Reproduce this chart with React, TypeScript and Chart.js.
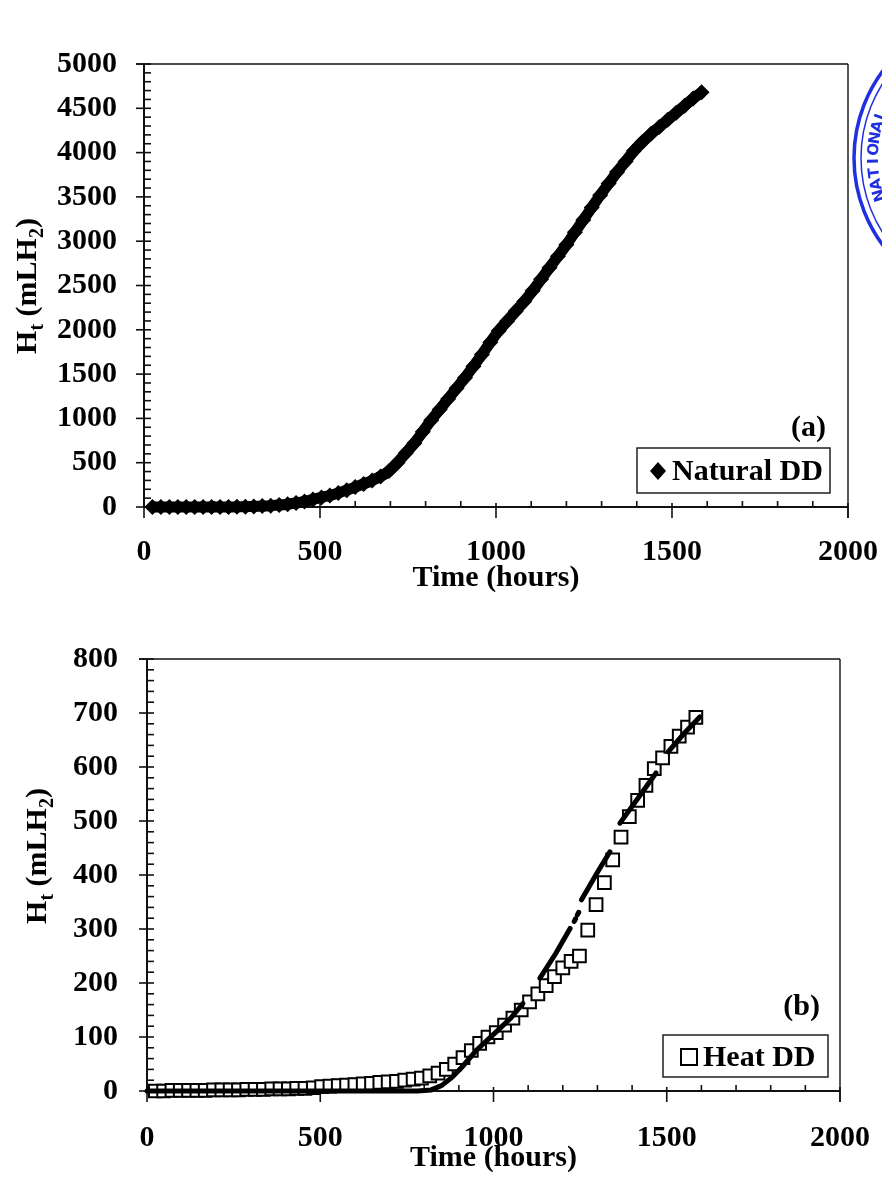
import React, { useEffect, useRef } from "react";
import { Chart, registerables } from "chart.js";

Chart.register(...registerables);

const FONT = "'Liberation Serif', 'Times New Roman', Times, serif";

// ---------- Panel (a): Natural DD ----------
const timeA = [
  24, 48, 72, 96, 120, 144, 168, 192, 216, 240,
  264, 288, 312, 336, 360, 384, 408, 432, 456, 480,
  504, 528, 552, 576, 600, 624, 648, 672, 696, 720,
  744, 768, 792, 816, 840, 864, 888, 912, 936, 960,
  984, 1008, 1032, 1056, 1080, 1104, 1128, 1152, 1176, 1200,
  1224, 1248, 1272, 1296, 1320, 1344, 1368, 1392, 1416, 1440,
  1464, 1488, 1512, 1536, 1560, 1584,
];
const naturalDD = [
  0, 0, 0, 0, 0, 0, 0, 0, 0, 0,
  2, 4, 6, 10, 15, 22, 32, 45, 62, 85,
  108, 130, 158, 190, 225, 260, 300, 345, 405, 500,
  610, 720, 850, 980, 1100, 1220, 1340, 1460, 1590, 1720,
  1860, 1990, 2100, 2210, 2320, 2440, 2570, 2700, 2830, 2960,
  3100, 3240, 3380, 3520, 3650, 3780, 3900, 4020, 4120, 4210,
  4290, 4370, 4450, 4530, 4610, 4680,
];

// ---------- Panel (b): Heat DD ----------
const timeB = [
  24, 48, 72, 96, 120, 144, 168, 192, 216, 240,
  264, 288, 312, 336, 360, 384, 408, 432, 456, 480,
  504, 528, 552, 576, 600, 624, 648, 672, 696, 720,
  744, 768, 792, 816, 840, 864, 888, 912, 936, 960,
  984, 1008, 1032, 1056, 1080, 1104, 1128, 1152, 1176, 1200,
  1224, 1248, 1272, 1296, 1320, 1344, 1368, 1392, 1416, 1440,
  1464, 1488, 1512, 1536, 1560, 1584,
];
const heatDD = [
  0, 0, 1, 1, 1, 1, 1, 2, 2, 2,
  2, 3, 3, 3, 4, 4, 4, 5, 5, 6,
  8, 9, 10, 11, 12, 13, 14, 16, 17, 18,
  20, 22, 24, 28, 33, 40, 50, 62, 75, 88,
  100, 108, 122, 135, 150, 165, 180, 195, 212, 228,
  240, 250, 298, 345, 386, 428, 470, 508, 538, 566,
  597, 617, 638, 657, 674, 692,
];
// model curve (broken into pieces, null = gap)
const modelTimeB = [
  0, 200, 400, 600, 700, 780, 820, 850, 880, 910, 950, 1000, 1050, 1085,
  1100, 1134, 1180, 1221, 1228, 1233, 1237, 1239, 1242, 1246, 1249,
  1254, 1300, 1336, 1350, 1365, 1420, 1469, 1485, 1504, 1550, 1596,
];
const modelHeatB = [
  0, 0, 0, 0, 0, 0, 2, 10, 25, 45, 75, 105, 135, 162,
  null, 209, 255, 301, null, 314, 319, null, 326, 331, null,
  354, 405, 443, null, 496, 545, 589, null, 628, 662, 693,
];

const xTickValues = [0, 500, 1000, 1500, 2000];
const yTickValuesA = [0, 500, 1000, 1500, 2000, 2500, 3000, 3500, 4000, 4500, 5000];
const yTickValuesB = [0, 100, 200, 300, 400, 500, 600, 700, 800];
const xTitle = "Time (hours)";
const legendTextA = "Natural DD";
const legendTextB = "Heat DD";
const panelTextA = "(a)";
const panelTextB = "(b)";

const W = 882;

type Spec = {
  canvasH: number;
  area: { left: number; right: number; top: number; bottom: number };
  xAxisH: number;
  yMax: number;
  yTicks: number[];
  yMinor: number;
  yLabelPad: number;
  xLabelPad: number;
  yTitle: { x: number; y: number };
  legend: {
    box: [number, number, number, number];
    marker: "diamond" | "square";
    mx: number;
    my: number;
    text: string;
    tx: number;
  };
  panel: { text: string; x: number; y: number };
  stamp: boolean;
  datasets: any[];
};

function line(ctx: CanvasRenderingContext2D, x1: number, y1: number, x2: number, y2: number) {
  ctx.beginPath();
  ctx.moveTo(x1, y1);
  ctx.lineTo(x2, y2);
  ctx.stroke();
}

function drawYTitle(ctx: CanvasRenderingContext2D, x: number, y: number) {
  const parts: [string, boolean][] = [
    ["H", false],
    ["t", true],
    [" (mLH", false],
    ["2", true],
    [")", false],
  ];
  const main = `bold 30px ${FONT}`;
  const sub = `bold 20px ${FONT}`;
  ctx.save();
  ctx.translate(x, y);
  ctx.rotate(-Math.PI / 2);
  ctx.textBaseline = "alphabetic";
  ctx.textAlign = "left";
  ctx.fillStyle = "#000";
  let total = 0;
  for (const [t, s] of parts) {
    ctx.font = s ? sub : main;
    total += ctx.measureText(t).width;
  }
  let cx = -total / 2;
  for (const [t, s] of parts) {
    ctx.font = s ? sub : main;
    ctx.fillText(t, cx, s ? 7 : 0);
    cx += ctx.measureText(t).width;
  }
  ctx.restore();
}

function drawStamp(ctx: CanvasRenderingContext2D) {
  const cx = 1000;
  const cy = 158;
  ctx.save();
  ctx.strokeStyle = "#2030e0";
  ctx.fillStyle = "#2030e0";
  ctx.lineWidth = 3.5;
  ctx.beginPath();
  ctx.arc(cx, cy, 146, 0, Math.PI * 2);
  ctx.stroke();
  ctx.lineWidth = 1.5;
  ctx.beginPath();
  ctx.arc(cx, cy, 139, 0, Math.PI * 2);
  ctx.stroke();
  ctx.beginPath();
  ctx.arc(cx, cy, 114, 0, Math.PI * 2);
  ctx.stroke();
  const word = "NATIONAL";
  ctx.font = "bold 15px 'DejaVu Sans', sans-serif";
  ctx.textAlign = "center";
  ctx.textBaseline = "middle";
  const r = 126;
  const start = Math.PI - 0.3;
  const step = 0.092;
  for (let i = 0; i < word.length; i++) {
    const th = start + i * step;
    ctx.save();
    ctx.translate(cx + r * Math.cos(th), cy + r * Math.sin(th));
    ctx.rotate(th + Math.PI / 2);
    ctx.fillText(word[i], 0, 0);
    ctx.restore();
  }
  ctx.restore();
}

function makeDecor(spec: Spec) {
  return {
    id: "decor",
    beforeDatasetsDraw(chart: any) {
      const ctx: CanvasRenderingContext2D = chart.ctx;
      const xs = chart.scales.x;
      const ys = chart.scales.y;
      const { left, right, top, bottom } = chart.chartArea;
      ctx.save();
      ctx.strokeStyle = "#111";
      ctx.lineCap = "butt";
      ctx.lineWidth = 1.4;
      line(ctx, left - 8, top, right, top);
      line(ctx, right, top, right, bottom + 11);
      ctx.lineWidth = 2;
      line(ctx, left, top, left, bottom);
      line(ctx, left, bottom, right, bottom);
      ctx.lineWidth = 1.6;
      for (const v of spec.yTicks) {
        const y = ys.getPixelForValue(v);
        line(ctx, left - 8, y, left + 7, y);
      }
      for (let v = spec.yMinor; v < spec.yMax; v += spec.yMinor) {
        if (spec.yTicks.includes(v)) continue;
        const y = ys.getPixelForValue(v);
        line(ctx, left, y, left + 7, y);
      }
      for (const v of xTickValues) {
        const x = xs.getPixelForValue(v);
        line(ctx, x, bottom - 4, x, bottom + 11);
      }
      for (let v = 100; v < 2000; v += 100) {
        if (v % 500 === 0) continue;
        const x = xs.getPixelForValue(v);
        line(ctx, x, bottom - 6, x, bottom);
      }
      ctx.restore();
    },
    afterDraw(chart: any) {
      const ctx: CanvasRenderingContext2D = chart.ctx;
      const lg = spec.legend;
      ctx.save();
      ctx.fillStyle = "#fff";
      const [bx1, by1, bx2, by2] = lg.box;
      ctx.fillRect(bx1, by1, bx2 - bx1, by2 - by1);
      ctx.strokeStyle = "#111";
      ctx.lineWidth = 1.4;
      ctx.strokeRect(bx1, by1, bx2 - bx1, by2 - by1);
      if (lg.marker === "diamond") {
        ctx.fillStyle = "#000";
        ctx.beginPath();
        ctx.moveTo(lg.mx, lg.my - 9);
        ctx.lineTo(lg.mx + 8, lg.my);
        ctx.lineTo(lg.mx, lg.my + 9);
        ctx.lineTo(lg.mx - 8, lg.my);
        ctx.closePath();
        ctx.fill();
      } else {
        ctx.strokeStyle = "#000";
        ctx.lineWidth = 2;
        ctx.strokeRect(lg.mx - 8, lg.my - 8, 16, 16);
      }
      ctx.fillStyle = "#000";
      ctx.font = `bold 30px ${FONT}`;
      ctx.textAlign = "left";
      ctx.textBaseline = "middle";
      ctx.fillText(lg.text, lg.tx, lg.my + 1);
      ctx.textAlign = "right";
      ctx.fillText(spec.panel.text, spec.panel.x, spec.panel.y);
      ctx.restore();
      drawYTitle(ctx, spec.yTitle.x, spec.yTitle.y);
      if (spec.stamp) drawStamp(ctx);
    },
  };
}

function buildConfig(spec: Spec): any {
  const a = spec.area;
  const tickFont = { family: FONT, size: 30, weight: "bold" as const, lineHeight: 1.2 };
  return {
    type: "scatter",
    data: { datasets: spec.datasets },
    plugins: [makeDecor(spec)],
    options: {
      responsive: false,
      animation: false,
      devicePixelRatio: 1,
      events: [],
      layout: {
        padding: {
          left: 0,
          top: a.top,
          right: W - a.right,
          bottom: spec.canvasH - (a.bottom + spec.xAxisH),
        },
      },
      plugins: {
        legend: { display: false },
        tooltip: { enabled: false },
        title: { display: false },
      },
      scales: {
        x: {
          type: "linear",
          min: 0,
          max: 2000,
          afterBuildTicks: (s: any) => {
            s.ticks = xTickValues.map((v) => ({ value: v }));
          },
          afterFit: (s: any) => {
            s.height = spec.xAxisH;
            s.paddingLeft = 0;
            s.paddingRight = 0;
            s.paddingTop = 0;
            s.paddingBottom = 0;
          },
          grid: { display: false, drawTicks: false },
          border: { display: false },
          ticks: {
            padding: spec.xLabelPad,
            font: tickFont,
            color: "#000",
            maxRotation: 0,
            autoSkip: false,
            callback: (v: any) => String(v),
          },
          title: {
            display: true,
            text: xTitle,
            color: "#000",
            font: { family: FONT, size: 30, weight: "bold", lineHeight: 1 },
            padding: 0,
          },
        },
        y: {
          type: "linear",
          min: 0,
          max: spec.yMax,
          afterBuildTicks: (s: any) => {
            s.ticks = spec.yTicks.map((v) => ({ value: v }));
          },
          afterFit: (s: any) => {
            s.width = a.left;
            s.paddingLeft = 0;
            s.paddingRight = 0;
            s.paddingTop = 0;
            s.paddingBottom = 0;
          },
          grid: { display: false, drawTicks: false },
          border: { display: false },
          ticks: {
            padding: spec.yLabelPad,
            font: tickFont,
            color: "#000",
            autoSkip: false,
            callback: (v: any) => String(v),
          },
          title: { display: false },
        },
      },
    },
  };
}

const specA: Spec = {
  canvasH: 600,
  area: { left: 144, right: 848, top: 64, bottom: 507 },
  xAxisH: 86,
  yMax: 5000,
  yTicks: yTickValuesA,
  yMinor: 100,
  yLabelPad: 27,
  xLabelPad: 27,
  yTitle: { x: 36, y: 286 },
  legend: {
    box: [637, 448, 830, 493],
    marker: "diamond",
    mx: 658,
    my: 471,
    text: legendTextA,
    tx: 672,
  },
  panel: { text: panelTextA, x: 826, y: 428 },
  stamp: true,
  datasets: [
    {
      label: legendTextA,
      data: timeA.map((t, i) => ({ x: t, y: naturalDD[i] })),
      pointStyle: "rectRot",
      pointRadius: 8,
      backgroundColor: "#000",
      borderColor: "#000",
      borderWidth: 11,
      pointBorderWidth: 0,
      showLine: true,
      tension: 0.3,
      borderCapStyle: "butt",
      borderJoinStyle: "round",
      clip: false,
    },
  ],
};

const specB: Spec = {
  canvasH: 582,
  area: { left: 147, right: 840, top: 59, bottom: 491 },
  xAxisH: 82,
  yMax: 800,
  yTicks: yTickValuesB,
  yMinor: 20,
  yLabelPad: 29,
  xLabelPad: 29,
  yTitle: { x: 46, y: 256 },
  legend: {
    box: [663, 435, 828, 477],
    marker: "square",
    mx: 689,
    my: 457,
    text: legendTextB,
    tx: 703,
  },
  panel: { text: panelTextB, x: 820, y: 407 },
  stamp: false,
  datasets: [
    {
      type: "line",
      label: "model",
      data: modelTimeB.map((t, i) => ({ x: t, y: modelHeatB[i] })),
      borderColor: "#000",
      borderWidth: 5,
      borderCapStyle: "round",
      pointRadius: 0,
      spanGaps: false,
      tension: 0,
      fill: false,
      clip: false,
      order: 0,
    },
    {
      label: legendTextB,
      data: timeB.map((t, i) => ({ x: t, y: heatDD[i] })),
      pointStyle: "rect",
      pointRadius: 9,
      backgroundColor: "#fff",
      borderColor: "#000",
      borderWidth: 2,
      showLine: false,
      clip: false,
      order: 1,
    },
  ],
};

function Panel({ spec, top }: { spec: Spec; top: number }) {
  const ref = useRef<HTMLCanvasElement>(null);
  useEffect(() => {
    if (!ref.current) return;
    const chart = new Chart(ref.current, buildConfig(spec));
    return () => chart.destroy();
  }, [spec]);
  return (
    <canvas
      ref={ref}
      width={W}
      height={spec.canvasH}
      style={{ position: "absolute", left: 0, top, width: W, height: spec.canvasH, display: "block" }}
    />
  );
}

export default function App() {
  return (
    <div
      style={{
        position: "absolute",
        left: 0,
        top: 0,
        width: W,
        height: 1182,
        background: "#fff",
        overflow: "hidden",
      }}
    >
      <Panel spec={specA} top={0} />
      <Panel spec={specB} top={600} />
    </div>
  );
}
